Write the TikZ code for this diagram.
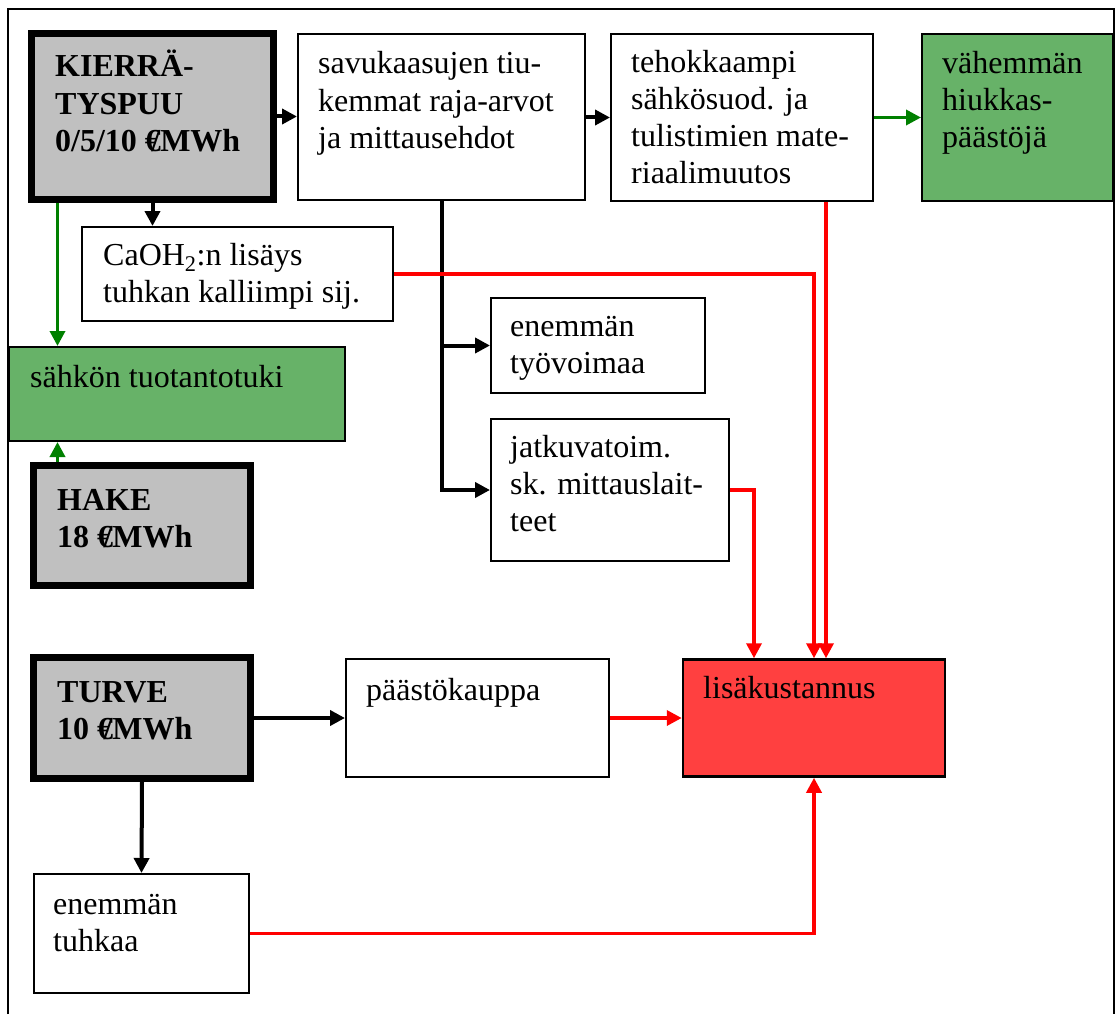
\documentclass[tikz,border=0pt]{standalone}
\usepackage{fontspec}
\setmainfont{Liberation Serif}
\usetikzlibrary{arrows.meta}
\definecolor{boxgray}{RGB}{192,192,192}
\definecolor{boxgreen}{RGB}{103,178,104}
\definecolor{boxred}{RGB}{255,64,64}
\definecolor{linered}{RGB}{255,0,0}
\definecolor{linegreen}{RGB}{0,128,0}
\tikzset{
  box/.style={draw=black, line width=2pt, rectangle, inner sep=0pt, fill=white},
  fuelbox/.style={draw=black, line width=7pt, rectangle, inner sep=0pt, fill=boxgray},
  greenbox/.style={box, fill=boxgreen},
  redbox/.style={box, line width=2.5pt, fill=boxred},
  txt/.style={anchor=base west, inner sep=0pt, align=left, font=\fontsize{32}{37}\selectfont},
  btxt/.style={txt, font=\fontsize{32}{37}\selectfont\bfseries},
  tip/.style={-{Triangle[length=15pt,width=15pt]}},
  blkline/.style={draw=black, line width=4pt, tip},
  redline/.style={draw=linered, line width=3.5pt, tip},
  grnline/.style={draw=linegreen, line width=3.5pt, tip}
}
\begin{document}
\begin{tikzpicture}[x=1pt,y=-1pt]
\useasboundingbox (0,0) rectangle (1115,1014);
% outer frame
\draw[line width=2pt] (8,1014) -- (8,9) -- (1114,9) -- (1114,1014);

% boxes
\node[fuelbox, minimum width=242pt, minimum height=166pt] (kier) at (152.5,116.5) {};
\node[box, minimum width=287pt, minimum height=166pt] (savu) at (441.5,117) {};
\node[box, minimum width=262pt, minimum height=167pt] (teho) at (742,117.5) {};
\node[greenbox, minimum width=191pt, minimum height=167pt] (vahe) at (1017.5,117.5) {};
\node[box, minimum width=311pt, minimum height=94pt] (caoh) at (237.5,274) {};
\node[greenbox, minimum width=336pt, minimum height=94pt] (sahko) at (177,394) {};
\node[box, minimum width=214pt, minimum height=95pt] (tyov) at (598,345.5) {};
\node[box, minimum width=238pt, minimum height=142pt] (jatk) at (610,490) {};
\node[fuelbox, minimum width=217pt, minimum height=120pt] (hake) at (142,525.5) {};
\node[fuelbox, minimum width=217pt, minimum height=121pt] (turve) at (142,718) {};
\node[box, minimum width=263pt, minimum height=118pt] (paas) at (477.5,718) {};
\node[redbox, minimum width=262pt, minimum height=117pt] (lisa) at (814,718) {};
\node[box, minimum width=215pt, minimum height=119pt] (tuhk) at (141.5,933.5) {};

% texts (anchored at the baseline of their last line)
\node[btxt] (kierT) at (55,151) {KIERRÄ-\\TYSPUU\\0/5/10 €\kern-.3em/MWh};
\node[txt] (savuT) at (318,148) {savukaasujen tiu-\\kemmat raja-arvot\\ja mittausehdot};
\node[txt] (tehoT) at (631,183) {tehokkaampi\\sähkösuod. ja\\tulistimien mate-\\riaalimuutos};
\node[txt] (vaheT) at (942,147) {vähemmän\\hiukkas-\\päästöjä};
\node[txt] (caohT) at (103,302) {CaOH\textsubscript{2}:n lisäys\\tuhkan kalliimpi sij.};
\node[txt] (sahkoT) at (30,387) {sähkön tuotantotuki};
\node[txt] (tyovT) at (510,373) {enemmän\\työvoimaa};
\node[txt] (jatkT) at (510,531) {jatkuvatoim.\\sk. mittauslait-\\teet};
\node[btxt] (hakeT) at (57,547) {HAKE\\18 €\kern-.3em/MWh};
\node[btxt] (turveT) at (57,739) {TURVE\\10 €\kern-.3em/MWh};
\node[txt] (paasT) at (366,700) {päästökauppa};
\node[txt] (lisaT) at (703,698) {lisäkustannus};
\node[txt] (tuhkT) at (53,951) {enemmän\\tuhkaa};

% connectors
\coordinate (trunk) at (442,0);
\coordinate (gx) at (57.5,0);
\coordinate (rx) at (826,0);
\coordinate (jx) at (754,0);
\draw[blkline] (kier.east) -- (kier.east -| savu.west);
\draw[blkline] (savu.east |- kier.east) -- (savu.east |- teho.west) -- (teho.west);
\draw[grnline] (teho.east) -- (vahe.west);
\draw[blkline] (kier.south) -- (kier.south |- caoh.north);
\draw[grnline] (kier.south -| gx) -- (sahko.north -| gx);
\draw[grnline] (hake.north -| gx) -- (sahko.south -| gx);
\draw[blkline] (savu.south -| trunk) |- (jatk.west);
\draw[blkline] (tyov.west -| trunk) -- (tyov.west);
\draw[redline] (caoh.east) -| (lisa.north);
\draw[redline] (teho.south -| rx) -- (lisa.north -| rx);
\draw[redline] (jatk.east) -| (lisa.north -| jx);
\draw[blkline] (turve.east) -- (paas.west);
\draw[redline] (paas.east) -- (lisa.west);
\draw[blkline] (turve.south) -- (tuhk.north);
\draw[redline] (tuhk.east) -| (lisa.south);
\end{tikzpicture}
\end{document}
